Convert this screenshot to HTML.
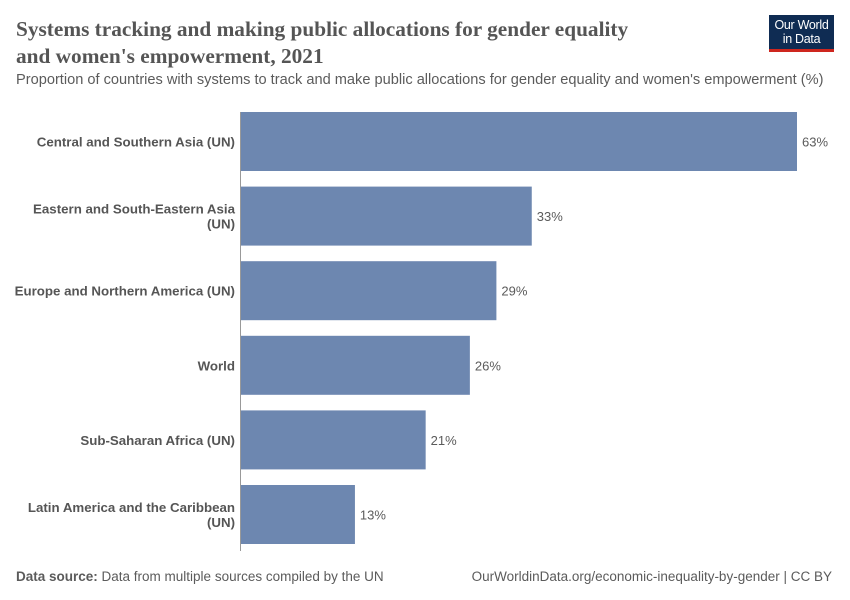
<!DOCTYPE html>
<html><head><meta charset="utf-8"><style>
body{margin:0;width:850px;height:600px;background:#fff;font-family:"Liberation Sans",sans-serif;position:relative;overflow:hidden}
.t{position:absolute;white-space:nowrap}
</style></head><body>
<div class="t" style="left:16px;top:16px;font-family:'Liberation Serif',serif;font-size:21.3px;font-weight:bold;color:#555;line-height:27px">Systems tracking and making public allocations for gender equality<br>and women's empowerment, 2021</div>
<div class="t" style="left:16px;top:72px;font-size:14.6px;color:#5b5b5b">Proportion of countries with systems to track and make public allocations for gender equality and women's empowerment (%)</div>
<div style="position:absolute;left:769px;top:15px;width:65px;height:37px;background:#0f2c53;border-bottom:3px solid #ce261e;color:#fff;font-size:12.5px;line-height:14px;text-align:center;padding-top:3px;box-sizing:border-box;letter-spacing:-0.3px">Our World<br>in Data</div>
<svg id="c" width="850" height="600" style="position:absolute;left:0;top:0"></svg>
<div class="t" style="left:16px;top:569px;font-size:13.5px;color:#5b5b5b"><b>Data source:</b> Data from multiple sources compiled by the UN</div>
<div class="t" style="right:18px;top:569px;font-size:13.5px;color:#5b5b5b">OurWorldinData.org/economic-inequality-by-gender | CC BY</div>
<script>
const categories=[["Central and Southern Asia (UN)"],["Eastern and South-Eastern Asia","(UN)"],["Europe and Northern America (UN)"],["World"],["Sub-Saharan Africa (UN)"],["Latin America and the Caribbean","(UN)"]];
const values=[63,33,29,26,21,13];
const labels=["63%","33%","29%","26%","21%","13%"];
const svg=document.getElementById('c');const NS="http://www.w3.org/2000/svg";
const x0=240,pxPer=(797-240)/63,top0=112,pitch=74.6,bh=59;
const x=v=>x0+v*pxPer;const y=i=>top0+i*pitch;
function mk(t,a){const e=document.createElementNS(NS,t);for(const k in a)e.setAttribute(k,a[k]);svg.appendChild(e);return e;}
values.forEach((v,i)=>{
const r=mk('rect',{x:x0,y:y(i),width:x(v)-x0,height:bh,fill:'#6d87b0'});


const t=mk('text',{x:x(v)+5,y:y(i)+bh/2+5,'font-size':13,fill:'#5b5b5b'});t.textContent=labels[i];


const lines=categories[i];
lines.forEach((l,j)=>{const c=mk('text',{x:235,y:y(i)+bh/2+5+(j-(lines.length-1)/2)*15,'font-size':13.3,'font-weight':'bold',fill:'#555','text-anchor':'end'});c.textContent=l;

});
});
const ax=mk('line',{x1:x0+0.5,x2:x0+0.5,y1:112,y2:551,stroke:'#999'});


</script>
</body></html>
